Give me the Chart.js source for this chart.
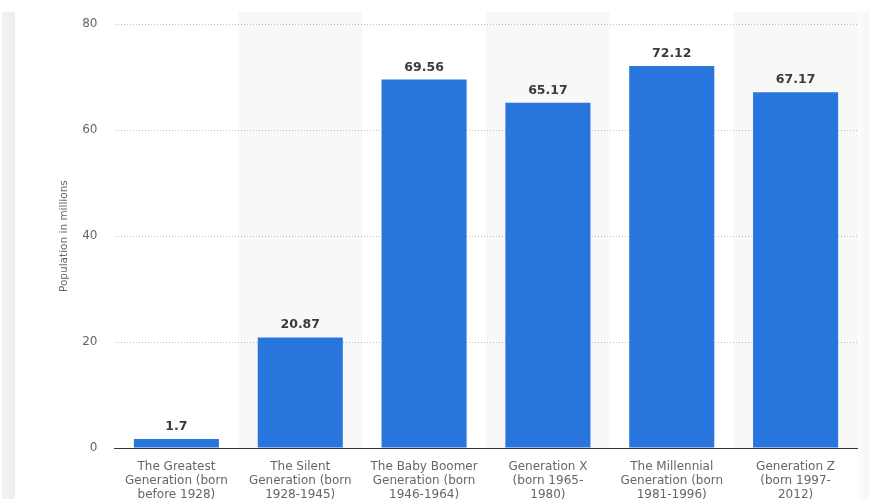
<!DOCTYPE html>
<html lang="en">
<head>
    <meta charset="UTF-8">
    <script src="https://cdn.jsdelivr.net/npm/chart.js"></script>
    <title>Population by generation</title>
    <style>
        html, body { margin: 0; padding: 0; background: #fff; overflow: hidden; }
        #box { width: 869px; height: 499px; position: relative; }
    </style>
</head>
<body>
    <div id="box"><canvas id="grafico"></canvas></div>

<script>
    // dados do grafico
    var geracoes = [
        ['The Greatest', 'Generation (born', 'before 1928)'],
        ['The Silent', 'Generation (born', '1928-1945)'],
        ['The Baby Boomer', 'Generation (born', '1946-1964)'],
        ['Generation X', '(born 1965-', '1980)'],
        ['The Millennial', 'Generation (born', '1981-1996)'],
        ['Generation Z', '(born 1997-', '2012)']
    ];
    var populacao = [1.7, 20.87, 69.56, 65.17, 72.12, 67.17];
    var ticksY = [0, 20, 40, 60, 80];

    var fonte = 'DejaVu Sans, Verdana, sans-serif';

    // faixas cinza alternadas (antes da grade) + rotulos em cima das barras
    const faixas = {
        id: 'faixas',
        beforeDraw(chart) {
            const ctx = chart.ctx;
            ctx.save();
            // barrinha cinza da esquerda
            let g = ctx.createLinearGradient(2, 0, 15, 0);
            g.addColorStop(0, '#f3f3f5');
            g.addColorStop(1, '#eeeef1');
            ctx.fillStyle = g;
            ctx.fillRect(2, 12, 13, 487);
            let g2 = ctx.createLinearGradient(858, 0, 869, 0);
            g2.addColorStop(0, '#fcfcfc');
            g2.addColorStop(1, '#f6f6f6');
            ctx.fillStyle = g2;
            ctx.fillRect(858, 12, 11, 487);

            const x = chart.scales.x;
            const area = chart.chartArea;
            const passo = (area.right - area.left) / geracoes.length;
            ctx.fillStyle = '#f8f8f8';
            for (let i = 1; i < geracoes.length; i += 2) {
                let cx = x.getPixelForValue(i);
                ctx.fillRect(cx - passo / 2, 12, passo, area.bottom - 12);
            }
            ctx.restore();
        },
        afterDatasetsDraw(chart) {
            const ctx = chart.ctx;
            const meta = chart.getDatasetMeta(0);
            ctx.save();
            ctx.font = 'bold 12.5px ' + fonte;
            ctx.fillStyle = '#3b3b3b';
            ctx.textAlign = 'center';
            ctx.textBaseline = 'alphabetic';
            meta.data.forEach(function (barra, i) {
                ctx.fillText(String(populacao[i]), barra.x, barra.y - 9);
            });
            ctx.restore();
        }
    };

    const config = {
        type: 'bar',
        data: {
            labels: geracoes,
            datasets: [{
                label: 'Population in millions',
                data: populacao,
                backgroundColor: '#2876dd',
                borderWidth: 0,
                barPercentage: 0.687,
                categoryPercentage: 1
            }]
        },
        options: {
            responsive: true,
            maintainAspectRatio: false,
            animation: false,
            layout: { padding: { left: 50, right: 11.5, top: 20, bottom: 0 } },
            plugins: {
                legend: { display: false },
                tooltip: { enabled: false }
            },
            scales: {
                x: {
                    afterFit(scale) { scale.height = 51; },
                    grid: { display: false, drawTicks: false },
                    border: { display: true, color: '#333', width: 1 },
                    ticks: {
                        color: '#666',
                        padding: 12,
                        maxRotation: 0,
                        autoSkip: false,
                        font: { family: fonte, size: 12, lineHeight: 1.17 }
                    }
                },
                y: {
                    min: 0,
                    max: 80,
                    afterFit(scale) { scale.width = 64.5; },
                    afterBuildTicks(scale) {
                        scale.ticks = ticksY.map(v => ({ value: v }));
                    },
                    grid: {
                        color: '#bdbdbd',
                        drawTicks: false
                    },
                    border: { display: false, dash: [1, 2] },
                    ticks: {
                        color: '#666',
                        padding: 17,
                        font: { family: fonte, size: 12 }
                    },
                    title: {
                        display: true,
                        text: 'Population in millions',
                        color: '#666',
                        padding: { top: 8, bottom: 0 },
                        font: { family: fonte, size: 10.5 }
                    }
                }
            }
        },
        plugins: [faixas]
    };

    let meuGrafico = new Chart(document.getElementById('grafico'), config);
</script>
</body>
</html>
